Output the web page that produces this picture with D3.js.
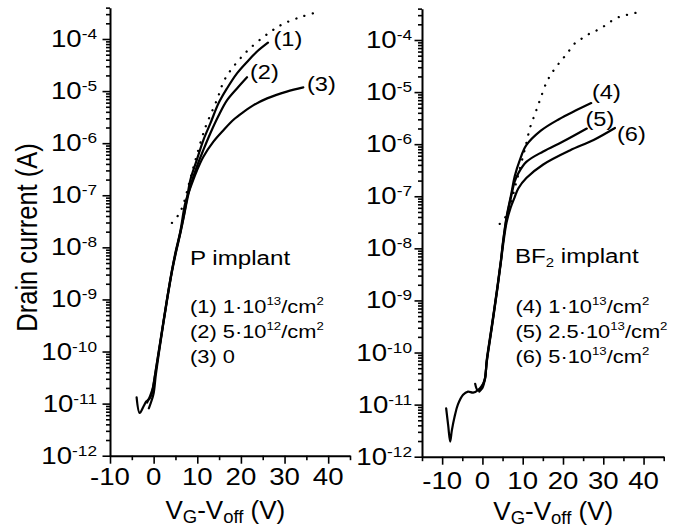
<!DOCTYPE html>
<html><head><meta charset="utf-8">
<script src="https://cdn.jsdelivr.net/npm/d3@7"></script>
<style>
body{margin:0;background:#fff}
svg{display:block}
text{font-family:Arial,"Liberation Sans",Helvetica,sans-serif;fill:#000}
</style>
</head><body>
<svg id="c" width="684" height="527"></svg>
<script>
// ---------------- DATA ----------------
// Gate voltage V_G - V_off (V) and log10 of drain current (A)
const decades = [-12, -11, -10, -9, -8, -7, -6, -5, -4];
const xMajorTicks = [-10, 0, 10, 20, 30, 40];
const xTickLabels = ["-10", "0", "10", "20", "30", "40"];

// Left panel: P implant
const p1V = [-3.9,-3.2,-2.3,-1.7,-0.9,-0.4,0.4,1.5,3.05,4.2,5.0,6.1,6.9,7.6,8.4,9.9,11.4,13.0,14.9,16.8,19.1,21.4,23.7,26.2];
const p1LogI = [-10.88,-11.18,-11.05,-10.96,-10.9,-10.8,-10.42,-9.84,-9.01,-8.45,-8.12,-7.72,-7.4,-7.08,-6.71,-6.32,-5.94,-5.62,-5.23,-4.95,-4.66,-4.44,-4.24,-4.07];
const p2V = [-1.1,-0.5,0,0.5,1.5,3.05,4.2,5.0,6.1,6.9,7.6,8.4,9.9,11.4,13.0,14.9,16.8,19.1,21.4];
const p2LogI = [-11.09,-10.95,-10.8,-10.45,-9.86,-9.03,-8.47,-8.14,-7.74,-7.42,-7.12,-6.83,-6.45,-6.13,-5.81,-5.47,-5.18,-4.95,-4.735];
const p3V = [-1.5,-0.8,-0.2,0.4,1.5,3.05,4.2,5.0,6.1,7.25,8.4,9.9,11.4,13.7,16.0,18.3,20.6,22.9,26.0,30.5,34.3];
const p3LogI = [-10.98,-10.85,-10.7,-10.4,-9.82,-9.0,-8.44,-8.1,-7.7,-7.15,-6.86,-6.53,-6.26,-5.97,-5.75,-5.55,-5.40,-5.27,-5.14,-5.01,-4.93];
const pFitV = [4.2,5.9,6.9,8.2,9.5,11.8,14.5,16.2,18.3,21.7,26.3,29.7,34.0,37.8];
const pFitLogI = [-7.53,-7.35,-7.15,-6.75,-6.35,-5.71,-5.17,-4.79,-4.53,-4.21,-3.89,-3.71,-3.57,-3.48];

// Right panel: BF2 implant
const b4V = [-9.0,-8.5,-8.0,-7.6,-6.9,-6.1,-4.8,-3.6,-2.3,-1.1,-0.25,0.57,1.07,2.3,3.6,4.6,5.1,6.0,7.2,8.0,9.3,10.9,14.5,19.0,23.0,27.0];
const b4LogI = [-11.07,-11.4,-11.71,-11.5,-11.23,-11.0,-10.81,-10.75,-10.77,-10.72,-10.65,-10.53,-10.14,-9.5,-8.8,-8.22,-7.88,-7.39,-6.94,-6.62,-6.30,-6.02,-5.74,-5.52,-5.36,-5.21];
const b5V = [-1.8,-1.2,-0.3,0.6,1.1,2.3,3.6,4.6,5.1,6.0,7.2,8.0,8.9,10.9,15.1,20.0,25.9];
const b5LogI = [-10.6,-10.72,-10.68,-10.5,-10.15,-9.52,-8.82,-8.24,-7.9,-7.42,-6.98,-6.72,-6.56,-6.34,-6.14,-5.95,-5.70];
const b6V = [-0.8,0,0.6,1.1,2.3,3.6,4.6,5.1,6.0,7.0,8.0,8.9,10.9,15.1,21.7,27.6,32.9];
const b6LogI = [-10.75,-10.68,-10.52,-10.17,-9.54,-8.84,-8.26,-7.95,-7.5,-7.22,-7.02,-6.85,-6.65,-6.39,-6.12,-5.92,-5.69];
const bFitV = [4.3,6.0,8.5,10.9,11.8,13.1,14.3,16.0,17.7,19.3,21.0,23.0,24.7,26.8,29.3,31.7,34.2,36.3,38.6];
const bFitLogI = [-7.53,-7.36,-6.7,-5.98,-5.69,-5.41,-5.15,-4.80,-4.58,-4.42,-4.26,-4.06,-3.97,-3.87,-3.78,-3.65,-3.55,-3.51,-3.47];

const leftLabels = ["(1)", "(2)", "(3)"];
const rightLabels = ["(4)", "(5)", "(6)"];
const leftTitle = "P implant";
const rightTitle = "BF_{2} implant";
const leftLegend = ["(1) 1·10^{13}/cm^{2}", "(2) 5·10^{12}/cm^{2}", "(3) 0"];
const rightLegend = ["(4) 1·10^{13}/cm^{2}", "(5) 2.5·10^{13}/cm^{2}", "(6) 5·10^{13}/cm^{2}"];
const yTitle = "Drain current (A)";

// ---------------- LAYOUT ----------------
const SX = 1.15; // horizontal text stretch seen in the figure
const svg = d3.select("#c");

const panels = [
  { xDomain: [-10, 45], xRange: [110, 350], yRange: [455.7, 7.64], labelGap: 13, xLabelY: 485, xTitleY: 518.5,
    series: [[p1V, p1LogI], [p2V, p2LogI], [p3V, p3LogI]], fit: [pFitV, pFitLogI],
    labels: leftLabels, labelPos: [[273.5, 46], [250, 79], [307, 91]],
    title: leftTitle, titlePos: [190, 265], legend: leftLegend, legendX: 190 },
  { xDomain: [-15, 45], xRange: [422, 663.7], yRange: [456.7, 8.64], labelGap: 10, xLabelY: 489, xTitleY: 519.5,
    series: [[b4V, b4LogI], [b5V, b5LogI], [b6V, b6LogI]], fit: [bFitV, bFitLogI],
    labels: rightLabels, labelPos: [[592, 99], [585.5, 126], [617, 141]],
    title: rightTitle, titlePos: [515, 263], legend: rightLegend, legendX: 515.5 }
];
const legendBaselines = [312.5, 337.5, 362.5];

// rich text: ^{..} superscript, _{..} subscript
function rich(parent, x, y, str, size, opt = {}) {
  const sx = opt.sx === undefined ? SX : opt.sx;
  const t = parent.append("text")
    .attr("transform", `translate(${x},${y}) scale(${sx},1)` + (opt.rotate ? ` rotate(${opt.rotate})` : ""))
    .attr("font-size", size)
    .attr("text-anchor", opt.anchor || "start");
  const re = /(\^\{[^}]*\}|_\{[^}]*\})/;
  const parts = str.split(re).filter(s => s.length);
  let shift = 0;
  const supSize = opt.supSize || size * 0.58;
  const subSize = opt.subSize || size * 0.58;
  parts.forEach(p => {
    let target = 0, txt = p, fs = size;
    if (p.startsWith("^{")) { target = -(opt.supRaise || size * 0.38); txt = p.slice(2, -1); fs = supSize; }
    else if (p.startsWith("_{")) { target = (opt.subDrop || size * 0.15); txt = p.slice(2, -1); fs = subSize; }
    t.append("tspan").attr("dy", target - shift).attr("font-size", fs).text(txt);
    shift = target;
  });
  return t;
}

panels.forEach(P => {
  const x = d3.scaleLinear().domain(P.xDomain).range(P.xRange);
  const y = d3.scaleLog().domain([1e-12, 4e-4]).range(P.yRange);
  const g = svg.append("g");

  // x axis: minor ticks every 5, major every 10
  const xMinor = d3.range(P.xDomain[0], P.xDomain[1] + 0.01, 5).filter(v => v % 10 !== 0);
  const yb = P.yRange[0];
  g.append("g").attr("transform", `translate(0,${yb})`)
    .call(d3.axisBottom(x).tickValues(xMinor).tickSize(4.5).tickSizeOuter(0).tickFormat(() => ""));
  const ax2 = g.append("g").attr("transform", `translate(0,${yb})`)
    .call(d3.axisBottom(x).tickValues(xMajorTicks).tickSize(8).tickSizeOuter(0).tickFormat(() => ""));
  ax2.select(".domain").remove();

  // y axis
  const yMinor = [];
  decades.forEach(d => { for (let k = 2; k <= 9; k++) { const v = k * Math.pow(10, d); if (v <= 4.0001e-4) yMinor.push(v); } });
  const yMajor = decades.map(d => Math.pow(10, d));
  const xl = P.xRange[0];
  g.append("g").attr("transform", `translate(${xl},0)`)
    .call(d3.axisLeft(y).tickValues(yMinor).tickSize(4).tickSizeOuter(0).tickFormat(() => ""));
  const ay2 = g.append("g").attr("transform", `translate(${xl},0)`)
    .call(d3.axisLeft(y).tickValues(yMajor).tickSize(7.5).tickSizeOuter(0).tickFormat(() => ""));
  ay2.select(".domain").remove();
  g.selectAll(".domain").attr("stroke", "#000").attr("stroke-width", 2);
  g.selectAll(".tick line").attr("stroke", "#000").attr("stroke-width", 1.6);

  // y tick labels
  decades.forEach(d => {
    rich(g, xl - P.labelGap, y(Math.pow(10, d)) + 8, `10^{${d}}`, 24,
      { anchor: "end", supSize: 15, supRaise: 8 });
  });
  // x tick labels
  xMajorTicks.forEach((v, i) => {
    rich(g, x(v), P.xLabelY, xTickLabels[i], 24, { anchor: "middle" });
  });
  // x title
  rich(g, x(2.7), P.xTitleY, "V_{G}-V_{off} (V)", 26, { sx: 1, subSize: 18.5, subDrop: 4 });

  // curves
  const line = d3.line().x(d => x(d[0])).y(d => y(Math.pow(10, d[1]))).curve(d3.curveCatmullRom.alpha(0.5));
  P.series.forEach(([vs, ls]) => {
    g.append("path").datum(vs.map((v, i) => [v, ls[i]]))
      .attr("d", line).attr("fill", "none").attr("stroke", "#000")
      .attr("stroke-width", 2.2).attr("stroke-linejoin", "round").attr("stroke-linecap", "round");
  });
  const [fv, fl] = P.fit;
  g.append("path").datum(fv.map((v, i) => [v, fl[i]]))
    .attr("d", line).attr("fill", "none").attr("stroke", "#000")
    .attr("stroke-width", 2.3).attr("stroke-linecap", "round").attr("stroke-dasharray", "0.1 8.5");

  // curve labels
  P.labels.forEach((s, i) => rich(g, P.labelPos[i][0], P.labelPos[i][1], s, 20.5));
  // title & legend
  rich(g, P.titlePos[0], P.titlePos[1], P.title, 21, { subSize: 13, subDrop: 4 });
  P.legend.forEach((s, i) => rich(g, P.legendX, legendBaselines[i], s, 19, { supSize: 11.5, supRaise: 8 }));
});

// y-axis title
rich(svg, 37, 237.5, yTitle, 25.5, { anchor: "middle", rotate: -90 });
</script>
</body></html>
